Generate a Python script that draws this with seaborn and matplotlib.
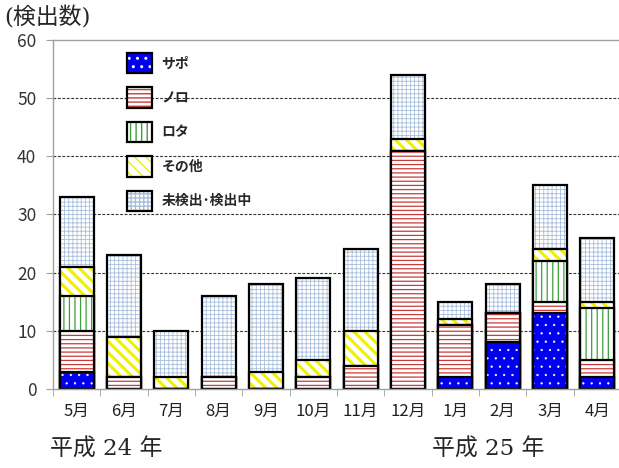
import numpy as np
import pandas as pd
import matplotlib
matplotlib.use('Agg')
import matplotlib.pyplot as plt
import seaborn as sns
from matplotlib.patches import Patch
from matplotlib.legend_handler import HandlerTuple
from matplotlib.ticker import FixedLocator

# ---- data ----
months = ['5月', '6月', '7月', '8月', '9月', '10月', '11月', '12月', '1月', '2月', '3月', '4月']
sapo = [3, 0, 0, 0, 0, 0, 0, 0, 2, 8, 13, 2]
noro = [7, 2, 0, 2, 0, 2, 4, 41, 9, 5, 2, 3]
rota = [6, 0, 0, 0, 0, 0, 0, 0, 0, 0, 7, 9]
other = [5, 7, 2, 0, 3, 3, 6, 2, 1, 0, 2, 1]
undetected = [12, 14, 8, 14, 15, 14, 14, 11, 3, 5, 11, 11]
labels = ['サポ', 'ノロ', 'ロタ', 'その他', '未検出･検出中']

# ---- style ----
sns.set_style('white')
plt.rcParams['font.family'] = ['Noto Sans CJK JP', 'DejaVu Sans']

# 各層: (face, hatch色, hatch, hatch線幅)
styles = [
    ('#0000ee', 'white', '..', 0.4),
    ('white', '#c83c3c', '----', 0.9),
    ('white', '#3ca03c', '|||', 0.9),
    ('white', '#f0f000', '\\\\\\', 2.2),
    ('white', '#a9bedb', '++++', 0.6),
]

df = pd.DataFrame({'month': months})
series = [sapo, noro, rota, other, undetected]
cum = np.cumsum(np.array(series), axis=0)
for i in range(len(series)):
    df[f'c{i}'] = cum[i]

fig = plt.figure(figsize=(6.19, 4.68), dpi=100)
ax = fig.add_axes([53 / 619, 79 / 468, 568 / 619, 349 / 468])

# 上の層から順に描いて、下の層で覆う
for i in reversed(range(len(series))):
    face, hc, hatch, hlw = styles[i]
    n0 = len(ax.patches)
    sns.barplot(data=df, x='month', y=f'c{i}', order=months, color=face,
                width=0.72, errorbar=None, ax=ax)
    for p in ax.patches[n0:]:
        p.set_facecolor(face)
        p.set_edgecolor(hc)
        p.set_hatch(hatch)
        p.set_linewidth(0)
        if hasattr(p, 'set_hatch_linewidth'):
            p.set_hatch_linewidth(hlw)
    sns.barplot(data=df, x='month', y=f'c{i}', order=months, color='black',
                fill=False, width=0.72, linewidth=1.6, errorbar=None, ax=ax)

ax.set_xlim(-0.5, 11.5)
ax.set_ylim(0, 60)
ax.set_yticks(range(0, 61, 10))
ax.set_xlabel('')
ax.set_ylabel('')
for y in range(10, 60, 10):
    ax.axhline(y, color='#333333', lw=0.8, ls=(0, (2.5, 1.5)), zorder=0.5)

for s in ['left', 'bottom', 'top']:
    ax.spines[s].set_color('#a0a0a0')
    ax.spines[s].set_linewidth(1.0)
ax.spines['right'].set_visible(False)

ax.tick_params(axis='y', length=5, color='#a0a0a0', labelsize=12.5,
               labelcolor='#333333', pad=7, left=True)
ax.tick_params(axis='x', which='major', length=0, labelsize=12,
               labelcolor='#222222', pad=10)
ax.xaxis.set_minor_locator(FixedLocator(np.arange(-0.5, 12, 1)))
ax.tick_params(axis='x', which='minor', length=5, color='#a0a0a0', bottom=True)

# 凡例
handles = []
for face, hc, hatch, hlw in styles:
    h1 = Patch(facecolor=face, edgecolor=hc, hatch=hatch, linewidth=0)
    if hasattr(h1, 'set_hatch_linewidth'):
        h1.set_hatch_linewidth(min(hlw, 1.2))
    h2 = Patch(facecolor='none', edgecolor='black', linewidth=1.6)
    handles.append((h1, h2))
leg = ax.legend(handles, labels, handler_map={tuple: HandlerTuple(ndivide=1)},
                loc='upper left', bbox_to_anchor=(0.13, 0.963), frameon=False,
                prop={'weight': 'bold', 'size': 10}, handlelength=1.8,
                handleheight=1.9, labelspacing=1.0, handletextpad=0.7,
                borderpad=0, borderaxespad=0)

serif = ['DejaVu Serif', 'Noto Sans CJK JP']
fig.text(4 / 619, 1 - 18 / 468, '(検出数)', fontsize=16.5, va='center',
         ha='left', family=serif)
fig.text(50 / 619, 1 - 450 / 468, '平成 24 年', fontsize=16.5, va='center',
         ha='left', family=serif)
fig.text(432 / 619, 1 - 450 / 468, '平成 25 年', fontsize=16.5, va='center',
         ha='left', family=serif)

fig.savefig('out.png', dpi=100)
